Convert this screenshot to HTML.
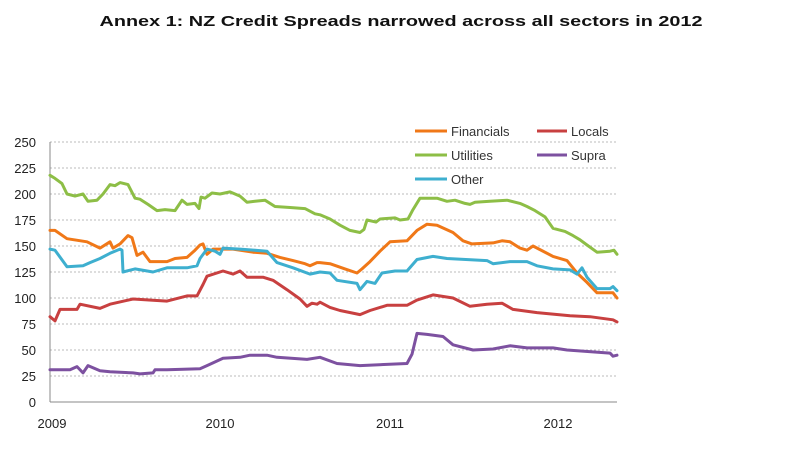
<!DOCTYPE html>
<html><head><meta charset="utf-8"><style>
html,body{margin:0;padding:0;background:#fff;}
svg{display:block;font-family:"Liberation Sans",sans-serif;}
</style></head><body>
<svg id="c" width="800" height="476" viewBox="0 0 800 476" xmlns="http://www.w3.org/2000/svg">
<text x="401" y="26" text-anchor="middle" font-size="15" font-weight="bold" fill="#111" textLength="603" lengthAdjust="spacingAndGlyphs">Annex 1: NZ Credit Spreads narrowed across all sectors in 2012</text>
<g id="grid"></g>
<line x1="50" y1="142" x2="50" y2="402" stroke="#888" stroke-width="1"/>
<line x1="50" y1="402" x2="617" y2="402" stroke="#888" stroke-width="1"/>
<g font-size="13" fill="#222" text-anchor="middle">
<text x="52" y="428">2009</text><text x="220" y="428">2010</text><text x="390" y="428">2011</text><text x="558" y="428">2012</text>
</g>
<g id="series" fill="none" stroke-width="3" stroke-linejoin="round" stroke-linecap="round"></g>
<g font-size="13" fill="#333">
<line x1="415" y1="131" x2="447" y2="131" stroke="#F07818" stroke-width="3"/><text x="451" y="136">Financials</text>
<line x1="537" y1="131" x2="567" y2="131" stroke="#C84040" stroke-width="3"/><text x="571" y="136">Locals</text>
<line x1="415" y1="155" x2="447" y2="155" stroke="#8DBE46" stroke-width="3"/><text x="451" y="160">Utilities</text>
<line x1="537" y1="155" x2="567" y2="155" stroke="#7D51A0" stroke-width="3"/><text x="571" y="160">Supra</text>
<line x1="415" y1="179" x2="447" y2="179" stroke="#3EAFCF" stroke-width="3"/><text x="451" y="184">Other</text>
</g>
</svg>
<script>
var ns="http://www.w3.org/2000/svg";
function Y(v){return 402-v*1.04;}
var g=document.getElementById("grid");
for(var v=0;v<=250;v+=25){
 var y=Y(v);
 if(v>0){var l=document.createElementNS(ns,"line");l.setAttribute("x1",50);l.setAttribute("x2",617);l.setAttribute("y1",y);l.setAttribute("y2",y);l.setAttribute("stroke","#bbb");l.setAttribute("stroke-dasharray","2,2");g.appendChild(l);}
 var t=document.createElementNS(ns,"text");t.setAttribute("x",36);t.setAttribute("y",y+5);t.setAttribute("text-anchor","end");t.setAttribute("font-size","13");t.setAttribute("fill","#222");t.textContent=v;g.appendChild(t);
}
var S=[
["#8DBE46",[50,218,55,215,62,210,67,200,75,198,83,200,88,193,97,194,103,200,110,209,115,208,120,211,128,209,135,196,140,195,148,190,157,184,165,185,175,184,182,194,187,190,195,191,199,186,201,197,205,196,212,201,220,200,230,202,240,198,247,192,255,193,265,194,275,188,290,187,305,186,315,181,320,180,330,176,340,170,350,165,360,163,364,166,367,175,376,173,380,176,395,177,400,175,408,176,413,185,420,196,437,196,447,193,455,194,465,191,470,190,475,192,490,193,507,194,520,191,527,188,535,184,545,178,553,167,565,164,573,160,580,156,587,151,597,144,610,145,614,146,617,142]],
["#F07818",[50,165,55,165,67,157,87,154,100,148,110,154,113,148,120,152,128,160,132,158,137,141,143,144,150,135,167,135,175,138,187,139,195,146,200,151,203,152,207,142,213,147,233,147,253,144,267,143,280,139,293,136,305,133,310,131,317,134,320,134,330,133,345,128,357,124,362,128,370,135,380,145,390,154,407,155,417,165,427,171,437,170,453,163,463,155,472,152,493,153,502,155,510,154,520,148,527,146,533,150,553,140,567,136,577,124,587,115,597,105,613,105,617,100]],
["#3EAFCF",[50,147,55,146,67,130,83,131,90,134,100,138,110,143,120,147,122,146,123,125,135,128,153,125,167,129,187,129,197,131,200,138,207,147,215,145,220,142,223,148,240,147,267,145,277,134,293,129,310,123,320,125,330,124,337,117,357,114,360,108,367,116,375,114,382,124,395,126,407,126,417,137,433,140,447,138,487,136,493,133,510,135,527,135,537,131,553,128,570,127,577,123,582,129,587,120,597,109,610,109,613,111,617,107]],
["#C84040",[50,82,55,78,60,89,77,89,80,94,100,90,110,94,133,99,167,97,187,102,197,102,203,113,207,121,223,126,233,123,240,126,247,120,263,120,273,117,287,108,300,99,307,92,312,95,317,94,320,96,330,91,340,88,360,84,370,88,387,93,407,93,417,98,433,103,453,100,470,92,487,94,502,95,513,89,537,86,570,83,590,82,613,79,617,77]],
["#7D51A0",[50,31,70,31,77,34,83,28,88,35,100,30,110,29,133,28,140,27,153,28,155,31,167,31,200,32,207,35,223,42,240,43,250,45,267,45,277,43,307,41,320,43,337,37,360,35,407,37,412,46,417,66,427,65,443,63,453,55,473,50,493,51,510,54,527,52,553,52,567,50,610,47,613,44,617,45]]
];
var sg=document.getElementById("series");
S.forEach(function(s){var p=[];for(var i=0;i<s[1].length;i+=2)p.push(s[1][i]+","+Y(s[1][i+1]).toFixed(1));
var e=document.createElementNS(ns,"polyline");e.setAttribute("points",p.join(" "));e.setAttribute("stroke",s[0]);sg.appendChild(e);});
</script>
</body></html>
